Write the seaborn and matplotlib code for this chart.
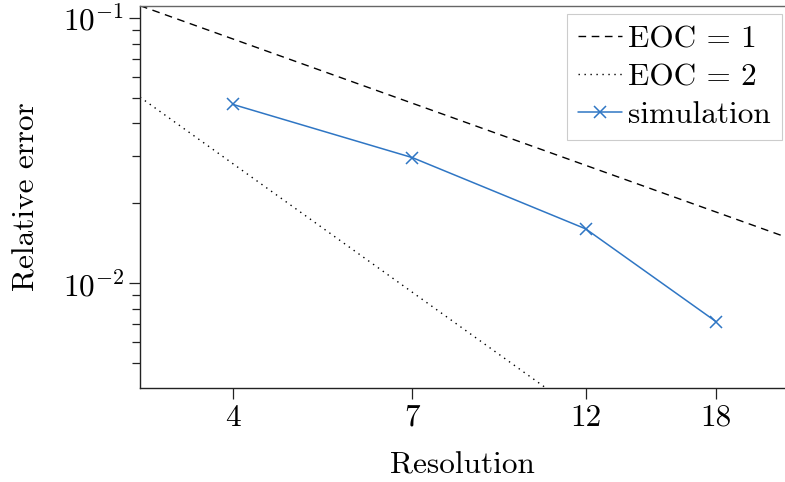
import numpy as np
import pandas as pd
import matplotlib
matplotlib.use("Agg")
import matplotlib.pyplot as plt
import matplotlib.ticker as mticker
import seaborn as sns

# ---- data ----
resolution = [4, 7, 12, 18]
rel_error = [0.0472, 0.0297, 0.0160, 0.00715]
x_ticks = [4, 7, 12, 18]
ref_x = [3.0, 22.3]
eoc1_const = 1.0 / 3.0
eoc2_const = 0.452

sns.set_theme(style="ticks")
plt.rcParams.update({
    "font.family": "serif",
    "font.serif": ["cmr10"],
    "mathtext.fontset": "cm",
    "axes.formatter.use_mathtext": True,
    "axes.unicode_minus": True,
    "font.size": 22.5,
    "axes.labelsize": 22.5,
    "xtick.labelsize": 22.5,
    "ytick.labelsize": 22.5,
    "legend.fontsize": 22.5,
    "text.color": "black",
    "axes.labelcolor": "black",
    "axes.edgecolor": "#222222",
    "axes.linewidth": 1.0,
    "xtick.color": "#222222",
    "ytick.color": "#222222",
    "xtick.labelcolor": "black",
    "ytick.labelcolor": "black",
    "xtick.major.size": 7.9,
    "ytick.major.size": 7.9,
    "ytick.minor.size": 5.6,
    "xtick.major.width": 0.9,
    "ytick.major.width": 0.9,
    "ytick.minor.width": 0.9,
})

ref = pd.DataFrame({
    "x": ref_x,
    "eoc1": [eoc1_const / v for v in ref_x],
    "eoc2": [eoc2_const / v ** 2 for v in ref_x],
})
sim = pd.DataFrame({"Resolution": resolution, "error": rel_error})

fig = plt.figure(figsize=(7.85, 4.82), dpi=100)
ax = fig.add_axes([140 / 785, 1 - 388 / 482, 645 / 785, 382 / 482])

blue = "#2f76c4"
sns.lineplot(data=ref, x="x", y="eoc1", ax=ax, color="black", lw=1.0,
             dashes=False, label="EOC = 1")
ax.lines[-1].set_dashes((5.5, 4.0))
sns.lineplot(data=ref, x="x", y="eoc2", ax=ax, color="black", lw=1.0,
             label="EOC = 2")
ax.lines[-1].set_dashes((1.0, 3.3))
sns.lineplot(data=sim, x="Resolution", y="error", ax=ax, color=blue, lw=1.1,
             marker="x", markersize=8.5, markeredgewidth=1.1,
             markeredgecolor=blue, label="simulation")

ax.set_xscale("log")
ax.set_yscale("log")
ax.set_xlim(ref_x[0], ref_x[1])
ax.set_ylim(0.00402, 0.1108)
ax.xaxis.set_major_locator(mticker.FixedLocator(x_ticks))
ax.xaxis.set_major_formatter(mticker.FixedFormatter([str(t) for t in x_ticks]))
ax.xaxis.set_minor_locator(mticker.NullLocator())
ax.set_xlabel("Resolution", labelpad=14)
ax.set_ylabel("Relative error", labelpad=16)
ax.spines["right"].set_visible(False)
ax.spines["top"].set_color("#666666")

leg = ax.legend(loc="upper right", bbox_to_anchor=(0.9953, 0.979),
                borderaxespad=0, frameon=True, fancybox=False,
                edgecolor="#cccccc", framealpha=1, handlelength=1.4,
                handletextpad=0.2, labelspacing=0.32, borderpad=0.36)
leg.get_frame().set_linewidth(0.8)

fig.savefig("out.png", dpi=100)
